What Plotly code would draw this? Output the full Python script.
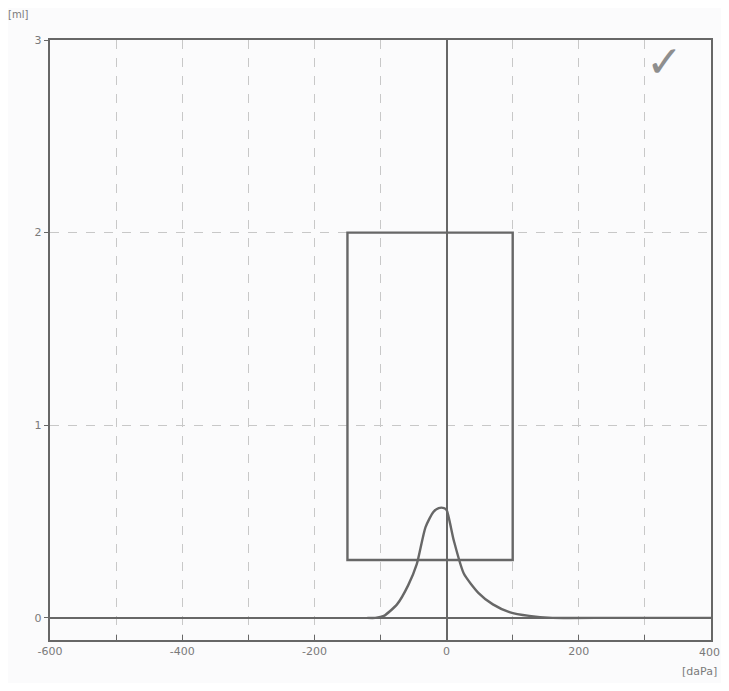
import plotly.graph_objects as go

# Tympanogram data
pressure = [-120, -108, -95, -75, -58, -45, -32, -20, -12, -4, 0, 11, 26, 48, 70, 95, 125, 160, 250, 400]
compliance = [0.0, 0.0, 0.01, 0.07, 0.17, 0.28, 0.47, 0.55, 0.57, 0.57, 0.56, 0.40, 0.23, 0.13, 0.07, 0.03, 0.01, 0.0, 0.0, 0.0]

# Normal region box
box_pressure = [-150, 100]
box_compliance = [0.3, 2.0]

x_ticks = [-600, -400, -200, 0, 200, 400]
x_tick_text = ["-600", "-400", "-200", "0", "200", ""]   # "400" drawn as annotation at the edge
y_ticks = [0, 1, 2, 3]

line_col = "#676767"
grid_col = "#c8c8c8"
txt_col = "#7a7a7a"

fig = go.Figure()

fig.add_trace(go.Scatter(
    x=pressure, y=compliance, mode="lines",
    line=dict(color=line_col, width=2.4, shape="spline", smoothing=0.6),
    hoverinfo="skip", showlegend=False))

fig.add_shape(type="rect", xref="x", yref="y",
              x0=box_pressure[0], x1=box_pressure[1],
              y0=box_compliance[0], y1=box_compliance[1],
              line=dict(color=line_col, width=2.4), fillcolor="rgba(0,0,0,0)")

fig.update_xaxes(
    range=[-600, 400], tickvals=x_ticks, ticktext=x_tick_text,
    automargin=False,
    showgrid=True, gridcolor=grid_col, griddash="dash", gridwidth=1,
    minor=dict(dtick=100, tick0=-600, showgrid=True, gridcolor=grid_col,
               griddash="dash", ticks="inside", ticklen=5, tickcolor=line_col),
    zeroline=True, zerolinecolor=line_col, zerolinewidth=2.2,
    showline=True, linecolor=line_col, linewidth=2.4, mirror=True,
    ticks="inside", ticklen=5, tickcolor=line_col,
    tickfont=dict(family="DejaVu Sans", size=11, color=txt_col),
)
fig.update_yaxes(
    range=[-0.115, 3], tickvals=y_ticks, ticktext=[str(v) for v in y_ticks],
    automargin=False,
    showgrid=True, gridcolor=grid_col, griddash="dash", gridwidth=1,
    zeroline=True, zerolinecolor=line_col, zerolinewidth=2.2,
    showline=True, linecolor=line_col, linewidth=2.4, mirror=True,
    ticks="outside", ticklen=4, tickcolor=line_col,
    tickfont=dict(family="DejaVu Sans", size=11, color=txt_col),
)

fig.add_annotation(x=x_ticks[-1], y=0, xref="x", yref="paper",
                   xanchor="center", yanchor="top", xshift=-2, yshift=-4,
                   text=str(x_ticks[-1]), showarrow=False,
                   font=dict(family="DejaVu Sans", size=11, color=txt_col))
fig.add_annotation(x=-0.048, y=1.042, xref="paper", yref="paper",
                   xanchor="center", yanchor="middle",
                   text="[ml]", showarrow=False,
                   font=dict(family="DejaVu Sans", size=10, color=txt_col))
fig.add_annotation(x=1.012, y=-0.053, xref="paper", yref="paper",
                   xanchor="right", yanchor="middle",
                   text="[daPa]", showarrow=False,
                   font=dict(family="DejaVu Sans", size=11, color=txt_col))
fig.add_annotation(x=0.96, y=1.01, xref="paper", yref="paper",
                   text="✓", showarrow=False,
                   font=dict(family="DejaVu Sans", size=44, color="#8e8e8e"))

fig.update_layout(
    width=713, height=675,
    margin=dict(l=42, r=10, t=32, b=43, autoexpand=False),
    paper_bgcolor="#fbfbfc", plot_bgcolor="#fbfbfc",
    showlegend=False,
)

fig.write_html("out.html")
